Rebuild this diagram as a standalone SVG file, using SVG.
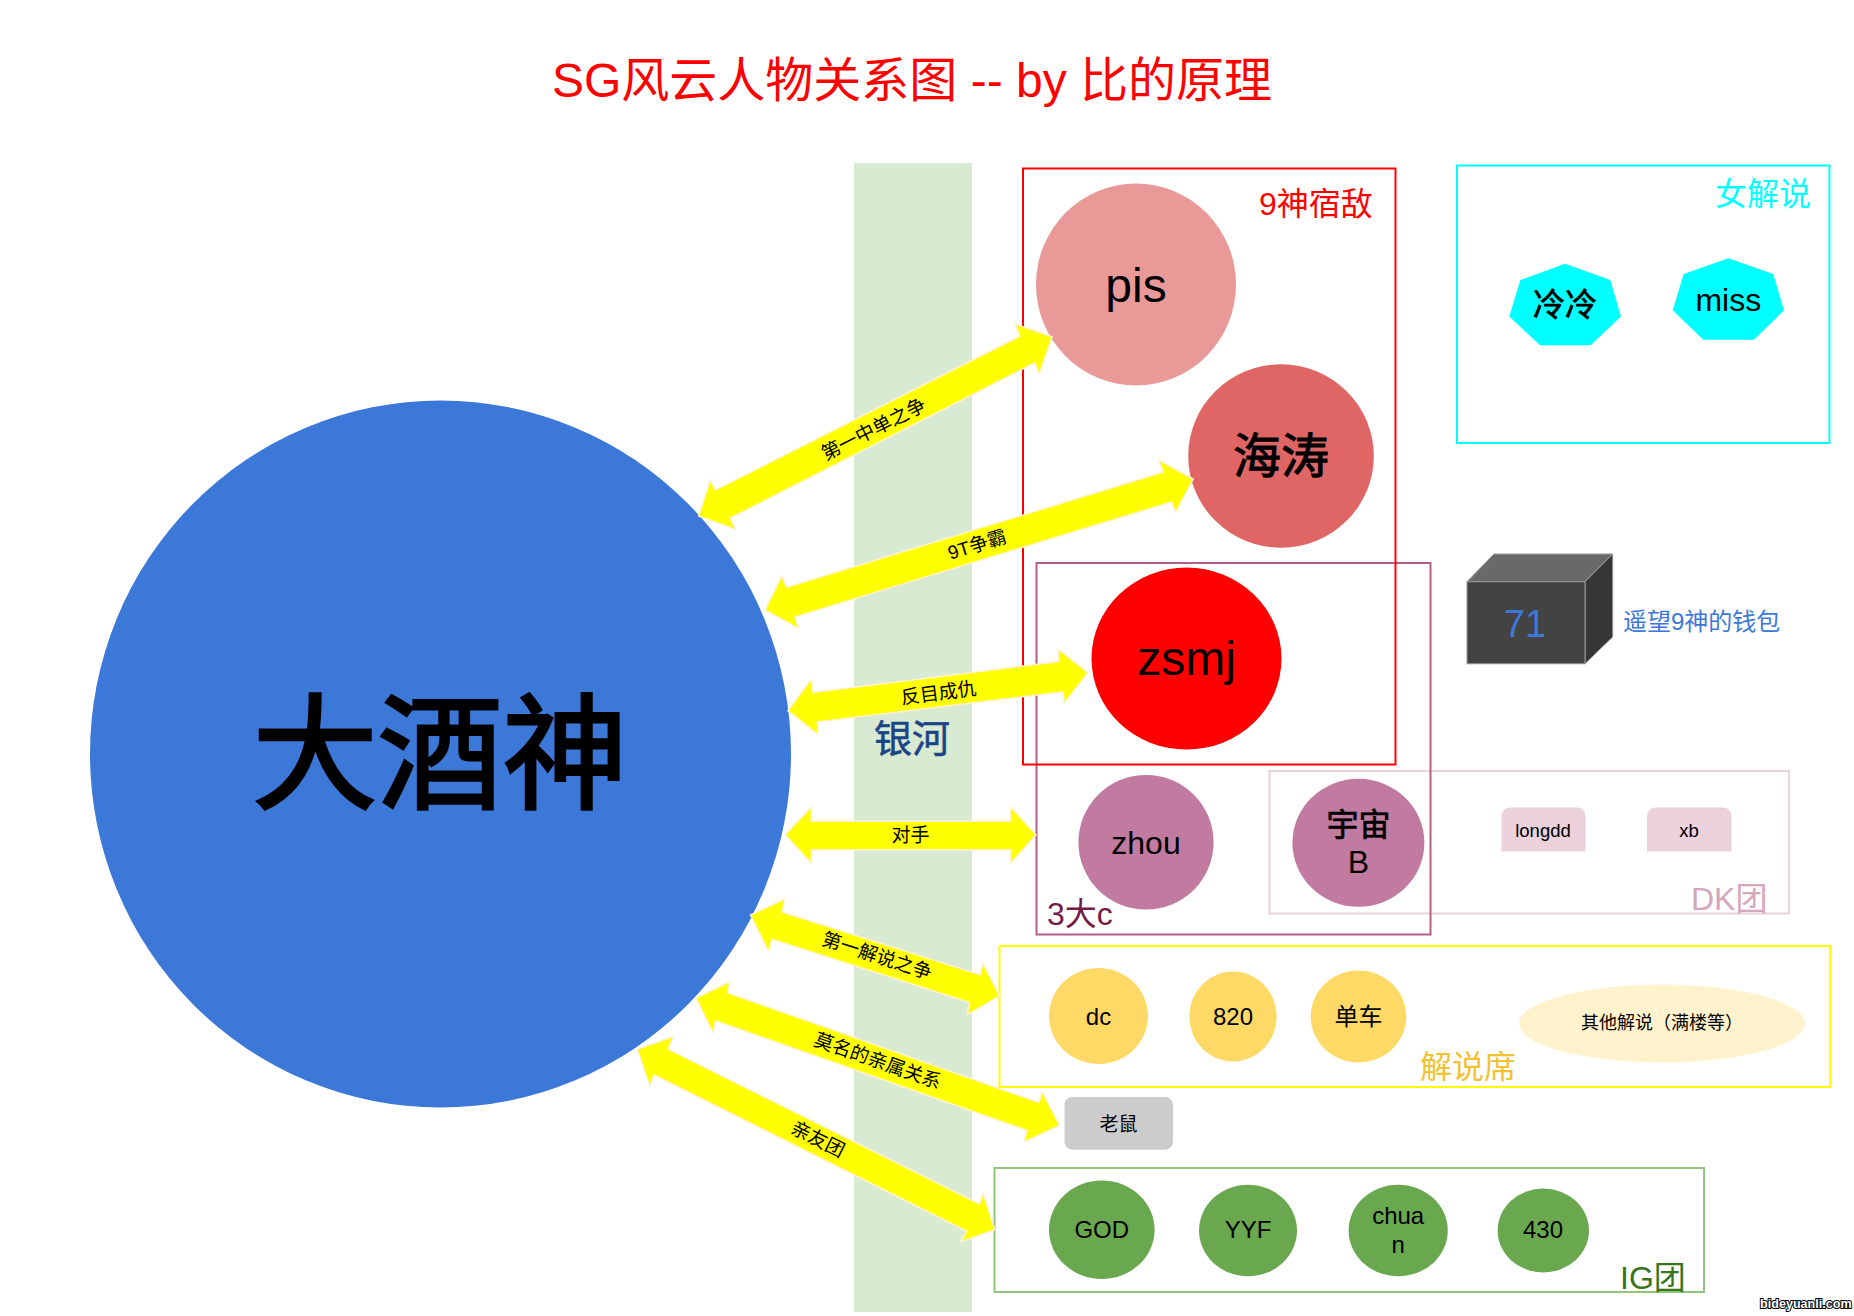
<svg xmlns="http://www.w3.org/2000/svg" width="1854" height="1316" viewBox="0 0 1854 1316">
<style>
text{font-family:"Liberation Sans","Noto Sans CJK SC",sans-serif;fill:#000}
.c{text-anchor:middle}
.m{stroke:#000;stroke-width:.7}
.box{fill:none;stroke-width:2}
.arr{fill:#ff0;stroke:#fff2cc;stroke-width:1.5;stroke-linejoin:miter}
.al{font-size:19px;text-anchor:middle}
</style>
<rect width="1854" height="1316" fill="#fff"/>
<text id="title" class="c" x="912" y="97" font-size="48" style="fill:#f00">SG风云人物关系图 -- by 比的原理</text>
<g id="band"><rect x="854" y="163" width="118" height="1149" fill="#d9ead3"/><text class="c" x="912" y="752" font-size="38" stroke="#1c4587" stroke-width=".6" style="fill:#1c4587">银河</text></g>

<g id="box-dk"><rect class="box" x="1269.500" y="771" width="519.500" height="142.500" stroke="#ead1dc"/><text x="1691" y="910" font-size="32" style="fill:#d5a6bd">DK团</text></g>
<g id="box-3c"><rect class="box" x="1036.500" y="563" width="394" height="371.500" stroke="#b45f87"/><text x="1047" y="924.500" font-size="32" style="fill:#741b47">3大c</text></g>
<g id="box-9"><rect class="box" x="1023" y="168.500" width="372.500" height="596" stroke="#f00"/><text x="1259" y="215" font-size="32" style="fill:#f00">9神宿敌</text></g>
<g id="box-girls"><rect class="box" x="1457" y="165.500" width="372.500" height="277.500" stroke="#0ff"/><text x="1715" y="204.500" font-size="32" style="fill:#0ff">女解说</text></g>
<g id="box-casters"><rect class="box" x="999.500" y="946" width="830.500" height="141" stroke="#ff0"/><text x="1420" y="1077.500" font-size="32" style="fill:#f1c232">解说席</text></g>
<g id="box-ig"><rect class="box" x="994.500" y="1168" width="709.500" height="124" stroke="#93c47d"/><text x="1620" y="1289" font-size="32" style="fill:#38761d">IG团</text></g>

<g id="center"><ellipse cx="440.500" cy="754" rx="350.500" ry="353.500" fill="#3c78d8"/><text class="c" x="440" y="799" font-size="125" stroke="#000" stroke-width="3">大酒神</text></g>
<g id="pis"><ellipse cx="1136" cy="284.500" rx="100" ry="101" fill="#ea9999"/><text class="c" x="1136" y="302" font-size="48">pis</text></g>
<g id="haitao"><ellipse cx="1281" cy="456" rx="92.800" ry="91.700" fill="#e06666"/><text class="c" x="1281" y="473" font-size="48" stroke="#000" stroke-width="1">海涛</text></g>
<g id="zsmj"><ellipse cx="1186.500" cy="658.600" rx="95" ry="91" fill="#f00"/><text class="c" x="1186.500" y="675" font-size="48">zsmj</text></g>
<g id="zhou"><ellipse cx="1146" cy="842.300" rx="67.600" ry="67.300" fill="#c27ba0"/><text class="c" x="1146" y="854" font-size="32">zhou</text></g>
<g id="yuzhoub"><ellipse cx="1358.400" cy="842.800" rx="66" ry="64" fill="#c27ba0"/><text class="c m" x="1358.400" y="836" font-size="32">宇宙</text><text class="c" x="1358.400" y="872.500" font-size="32">B</text></g>
<g id="longdd"><path d="M1501.500 851.500V816a8.500 8.500 0 0 1 8.500-8.500h67a8.500 8.500 0 0 1 8.500 8.500v35.500z" fill="#ead1dc"/><text class="c" x="1543" y="836.500" font-size="18.500">longdd</text></g>
<g id="xb"><path d="M1647 851.500V816a8.500 8.500 0 0 1 8.500-8.500h67.500a8.500 8.500 0 0 1 8.500 8.500v35.500z" fill="#ead1dc"/><text class="c" x="1689" y="836.500" font-size="18.500">xb</text></g>
<g id="lengleng"><polygon points="1565,263.800 1610.300,280 1621,316.600 1590.700,345.200 1540,345.200 1509.300,316.600 1520.300,280" fill="#0ff"/><text class="c m" x="1565" y="316" font-size="32">冷冷</text></g>
<g id="miss"><polygon points="1728.300,258.300 1773.300,274.100 1784,310.300 1754,339.700 1703.300,339.700 1672.700,310.300 1683.700,274.100" fill="#0ff"/><text class="c" x="1728.300" y="310.500" font-size="32">miss</text></g>
<g id="seven-one"><polygon points="1467,581.700 1494,554 1612.700,554 1585,581.700" fill="#696969" stroke="#999" stroke-width="1"/><polygon points="1585,581.700 1612.700,554 1612.700,636.900 1585,663.800" fill="#363636" stroke="#999" stroke-width="1"/><rect x="1467" y="581.700" width="118" height="82.100" fill="#434343" stroke="#999" stroke-width="1"/><text class="c" x="1525" y="637" font-size="38" style="fill:#3c78d8">71</text><text x="1623" y="629.500" font-size="24" style="fill:#3c78d8">遥望9神的钱包</text></g>
<g id="dc"><ellipse cx="1098.500" cy="1016" rx="49.500" ry="48" fill="#ffd966"/><text class="c" x="1098.500" y="1025" font-size="24">dc</text></g>
<g id="n820"><ellipse cx="1233" cy="1016.500" rx="43.700" ry="45" fill="#ffd966"/><text class="c" x="1233" y="1024.500" font-size="24">820</text></g>
<g id="danche"><ellipse cx="1358.500" cy="1016.500" rx="47.800" ry="45.900" fill="#ffd966"/><text class="c" x="1358.500" y="1024.500" font-size="24">单车</text></g>
<g id="others"><ellipse cx="1662" cy="1023.500" rx="143" ry="38.900" fill="#fff2cc"/><text class="c" x="1662" y="1029" font-size="18">其他解说（满楼等）</text></g>
<g id="laoshu"><rect x="1064.500" y="1097" width="108.500" height="52.700" rx="8" fill="#ccc"/><text class="c" x="1118.600" y="1130.500" font-size="19">老鼠</text></g>
<g id="god"><ellipse cx="1101.800" cy="1229.800" rx="52.800" ry="49.200" fill="#6aa84f"/><text class="c" x="1101.800" y="1238" font-size="24">GOD</text></g>
<g id="yyf"><ellipse cx="1248" cy="1230.500" rx="49" ry="45.800" fill="#6aa84f"/><text class="c" x="1248" y="1238" font-size="24">YYF</text></g>
<g id="chuan"><ellipse cx="1398.200" cy="1230.500" rx="49.600" ry="45.800" fill="#6aa84f"/><text class="c" x="1398.200" y="1224" font-size="24">chua</text><text class="c" x="1398.200" y="1252.500" font-size="24">n</text></g>
<g id="n430"><ellipse cx="1543.300" cy="1230.500" rx="45.700" ry="42" fill="#6aa84f"/><text class="c" x="1543" y="1237.500" font-size="24">430</text></g>

<g id="connectors">
<polygon class="arr" points="698.600,516 710.400,480 715.300,490.100 1019.900,336.100 1015,324 1052.100,336.700 1039.300,374 1034.700,362.900 730.100,518.200 735.400,529.300"/>
<polygon class="arr" points="765,610 781.800,576 786.500,587.400 1163.400,472.100 1158.600,460 1193.200,479 1175.700,512.300 1171.600,501.900 794.900,616.900 798.600,628.300"/>
<polygon class="arr" points="787.900,710.700 811.400,679.300 812.700,692.500 1059.100,661.500 1057.900,649 1087.900,672.700 1064.300,703.300 1063.100,691.800 817.300,721.800 817.900,734.300"/>
<polygon class="arr" points="785.300,834.800 811.400,807 811.400,821.300 1010.700,821.300 1010.700,807 1036,834.800 1010.700,863.300 1010.700,849.800 811.400,849.800 811.400,863.300"/>
<polygon class="arr" points="750.500,915 784.500,899 782.400,912.300 980.100,974.700 983,963.100 999.600,995.900 967.200,1014.800 969.600,1002.500 771.900,939.100 768.700,951.700"/>
<polygon class="arr" points="695.900,998 729.900,981.700 727.300,992.700 1038.900,1102.500 1042.300,1092.100 1059.700,1125.300 1024.100,1142 1026.800,1130.300 715.600,1020.800 712.900,1032.600"/>
<polygon class="arr" points="637.400,1049.400 673.400,1036.600 668.100,1049.100 979.700,1204.200 983,1193 994.800,1229.700 960.800,1241.800 966.500,1231 654.100,1074.900 649.700,1086.100"/>
<text class="al" transform="translate(876.500,435) rotate(-26.900)">第一中单之争</text>
<text class="al" transform="translate(979,551) rotate(-17)">9T争霸</text>
<text class="al" transform="translate(939.500,699.500) rotate(-7.200)">反目成仇</text>
<text class="al" x="910.600" y="842">对手</text>
<text class="al" transform="translate(875,962) rotate(18)">第一解说之争</text>
<text class="al" transform="translate(875.500,1067) rotate(19.300)">莫名的亲属关系</text>
<text class="al" transform="translate(815,1145) rotate(26.800)">亲友团</text>
</g>
<text id="watermark" x="1760" y="1308" font-size="12.600" font-weight="bold" stroke="#000" stroke-width="2" paint-order="stroke" style="fill:#fff">bideyuanli.com</text>
</svg>
